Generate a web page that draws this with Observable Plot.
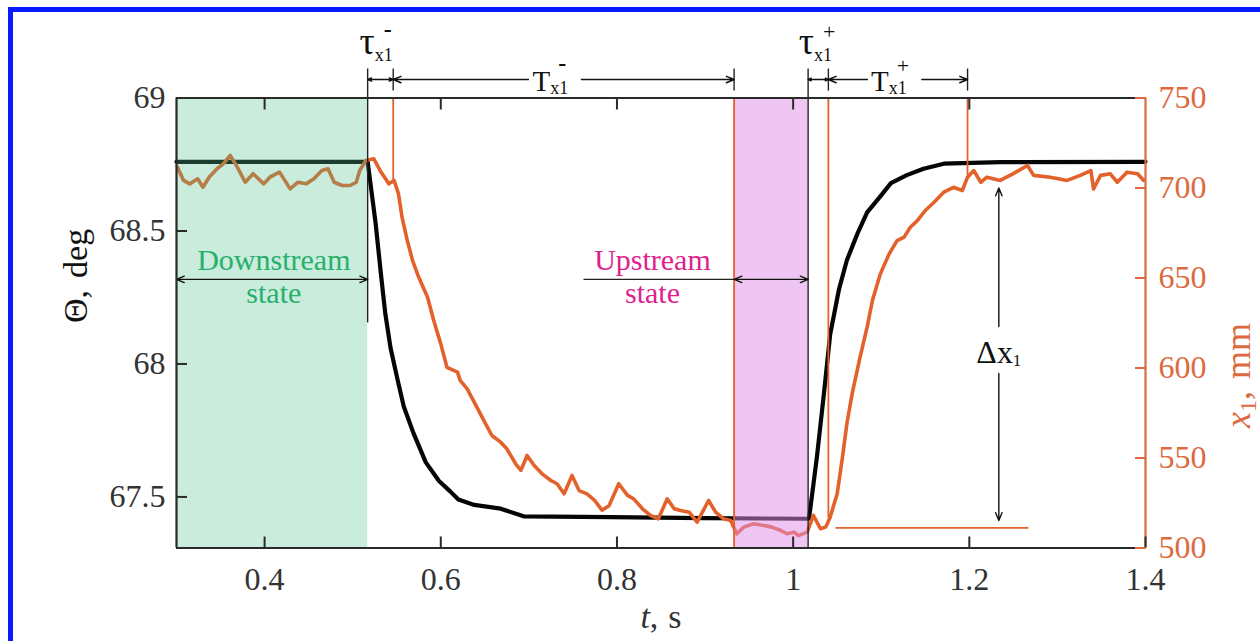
<!DOCTYPE html>
<html>
<head>
<meta charset="utf-8">
<script src="https://cdn.jsdelivr.net/npm/d3@7"></script>
<script src="https://cdn.jsdelivr.net/npm/@observablehq/plot@0.6"></script>
<style>
  html, body { margin: 0; padding: 0; background: #fff; }
  #wrap { position: relative; width: 1260px; height: 641px; overflow: hidden; }
  #edge { position: absolute; left: 8px; top: 7px; width: 1300px; height: 700px;
          border-left: 5px solid #0a1aff; border-top: 5px solid #0a1aff; pointer-events: none; }
  #chart svg, #chart svg text { font-family: "Liberation Serif", "DejaVu Serif", serif !important; }
</style>
</head>
<body>
<div id="wrap"><div id="chart"></div><div id="edge"></div></div>
<script>
// Θ(t): jet deflection angle, deg (black trace)
const thetaT = [0.300, 0.517, 0.526, 0.532, 0.537, 0.543, 0.551, 0.558, 0.569, 0.583, 0.598, 0.611, 0.620, 0.638, 0.668, 0.694, 0.793, 0.900,
                1.018, 1.027, 1.035, 1.042, 1.052, 1.061, 1.073, 1.084, 1.099, 1.111, 1.129, 1.148, 1.171, 1.235, 1.400];
const thetaDeg = [68.76, 68.76, 68.53, 68.34, 68.19, 68.06, 67.94, 67.84, 67.74, 67.63, 67.56, 67.52, 67.49, 67.47, 67.456, 67.427, 67.424, 67.42,
                  67.418, 67.65, 67.89, 68.11, 68.28, 68.39, 68.49, 68.57, 68.63, 68.68, 68.71, 68.734, 68.753, 68.759, 68.76];

// x1(t): position, mm (orange trace)
const x1T = [0.301, 0.308, 0.315, 0.324, 0.330, 0.337, 0.346, 0.353, 0.361, 0.369, 0.378, 0.387, 0.399, 0.406, 0.417, 0.429, 0.438, 0.447,
             0.456, 0.465, 0.472, 0.479, 0.488, 0.497, 0.504, 0.508, 0.515, 0.524, 0.532, 0.541, 0.547, 0.552, 0.556, 0.562, 0.568, 0.575,
             0.585, 0.592, 0.600, 0.607, 0.619, 0.622, 0.630, 0.639, 0.649, 0.658, 0.668, 0.675, 0.685, 0.691, 0.698, 0.706, 0.715, 0.725,
             0.732, 0.740, 0.749, 0.757, 0.766, 0.774, 0.783, 0.791, 0.802, 0.812, 0.819, 0.829, 0.838, 0.847, 0.857, 0.865, 0.872, 0.882,
             0.891, 0.904, 0.912, 0.921, 0.929, 0.936, 0.944, 0.955, 0.967, 0.976, 0.986, 0.993, 1.001, 1.006, 1.016, 1.023, 1.031, 1.037,
             1.042, 1.050, 1.056, 1.061, 1.067, 1.076, 1.084, 1.090, 1.099, 1.109, 1.118, 1.126, 1.133, 1.141, 1.150, 1.160, 1.171, 1.182,
             1.192, 1.198, 1.205, 1.213, 1.220, 1.235, 1.250, 1.266, 1.273, 1.292, 1.311, 1.326, 1.338, 1.341, 1.349, 1.360, 1.368, 1.379,
             1.391, 1.398];
const x1Mm = [711.6, 704.2, 702.3, 705.1, 700.4, 706.0, 710.7, 713.4, 718.1, 711.6, 703.2, 707.9, 702.3, 706.0, 708.8, 699.5, 703.2, 702.3,
              705.1, 709.7, 710.7, 703.2, 701.4, 701.4, 703.2, 709.7, 715.3, 716.2, 709.0, 702.3, 704.2, 696.8, 683.8, 670.8, 659.7, 650.4,
              639.3, 626.4, 613.4, 600.4, 597.7, 593.1, 588.4, 580.1, 570.8, 562.5, 558.8, 555.1, 546.8, 543.1, 551.4, 545.8, 541.2, 537.5,
              535.7, 530.1, 540.3, 531.9, 530.1, 526.8, 521.0, 523.5, 535.7, 529.2, 527.3, 521.8, 518.1, 516.2, 527.3, 521.8, 520.8, 519.9,
              514.3, 526.4, 519.9, 516.2, 515.3, 507.9, 511.6, 513.5, 512.5, 511.6, 509.7, 507.9, 508.8, 506.9, 508.8, 518.1, 510.7, 511.6,
              517.1, 530.1, 550.4, 569.0, 585.7, 606.0, 622.7, 637.5, 652.3, 663.4, 670.8, 672.7, 678.2, 681.9, 687.5, 692.1, 697.7, 700.4,
              698.6, 706.0, 709.7, 703.2, 706.0, 704.2, 708.0, 712.5, 707.0, 706.0, 704.2, 707.0, 709.7, 699.5, 707.0, 707.9, 703.2, 708.8,
              707.9, 704.2];

// axis ticks
const tTicks = [0.4, 0.6, 0.8, 1, 1.2, 1.4];
const thetaTicks = [67.5, 68, 68.5, 69];
const x1Ticks = [500, 550, 600, 650, 700, 750];

// event times, s
const tDownEnd = 0.517;   // end of the downstream state
const tX1Drop = 0.546;    // x1 starts to fall
const tUpStart = 0.933;   // x1 reaches the upstream state
const tUpEnd = 1.017;     // end of the upstream state
const tX1Rise = 1.040;    // x1 starts to rise
const tX1Settle = 1.198;  // x1 back at the downstream level
const x1Low = 511.2;      // mm, upstream level of x1
const x1Settled = 700;    // mm, downstream level of x1

// scale domains: Θ on the left, x1 on the right, sharing one vertical scale
const thetaDomain = [67.308, 69];
const x1Domain = [500, 750];
const toTheta = mm => thetaDomain[0] + (mm - x1Domain[0]) * (thetaDomain[1] - thetaDomain[0]) / (x1Domain[1] - x1Domain[0]);
const toMm = th => x1Domain[0] + (th - thetaDomain[0]) * (x1Domain[1] - x1Domain[0]) / (thetaDomain[1] - thetaDomain[0]);

const INK = "#111";
const FRAME = "#2a2a2a";
const ORANGE = "#e3612a";
const ORANGE_AX = "#dc6a3e";
const GREEN_TXT = "#27b06b";
const PINK_TXT = "#df1f8e";

const black = thetaT.map((t, i) => ({t, v: thetaDeg[i]}));
const orange = x1T.map((t, i) => ({t, v: toTheta(x1Mm[i])}));

// annotation levels (in Θ units of the shared vertical scale)
const yDim = 69.0695;      // row of the τ/T dimension arrows
const yExtTop = 69.111, yExtBot = 69.028;
const yTauBase = 69.167;
const yTBase = 69.028;
const yEdgeLow = 68.156;   // lower end of the downstream edge line
const yState = 68.318;     // row of the state arrows
const yStateBase = 68.231; // baseline of the second "state" line
const yDeltaLabel = 68.002;

// shaded downstream (green) and upstream (pink) intervals, laid over the traces
const zones = [
  {x1: thetaT[0], x2: tDownEnd, fill: "#4cbf8c", op: 0.3},
  {x1: tUpStart, x2: tUpEnd, fill: "#e08ee8", op: 0.5}
];

// thin dark lines: extension bars above the frame, interval edges, leader line
const darkLines = [
  {x1: tDownEnd, y1: yExtTop, x2: tDownEnd, y2: yEdgeLow},
  {x1: tX1Drop, y1: yExtTop, x2: tX1Drop, y2: yExtBot},
  {x1: tUpStart, y1: yExtTop, x2: tUpStart, y2: yExtBot},
  {x1: tUpEnd, y1: yExtTop, x2: tUpEnd, y2: thetaDomain[0]},
  {x1: tX1Rise, y1: yExtTop, x2: tX1Rise, y2: yExtBot},
  {x1: tX1Settle, y1: yExtTop, x2: tX1Settle, y2: yExtBot},
  {x1: 0.762, y1: yState, x2: tUpStart, y2: yState}
];

// thin orange lines marking the x1 events, and the upstream x1 level
const orangeLines = [
  {x1: tX1Drop, y1: thetaDomain[1], x2: tX1Drop, y2: toTheta(704)},
  {x1: tUpStart, y1: thetaDomain[1], x2: tUpStart, y2: thetaDomain[0]},
  {x1: tX1Rise, y1: thetaDomain[1], x2: tX1Rise, y2: toTheta(517)},
  {x1: tX1Settle, y1: thetaDomain[1], x2: tX1Settle, y2: toTheta(706)},
  {x1: 1.048, y1: toTheta(x1Low), x2: 1.267, y2: toTheta(x1Low)}
];

// double-headed dimension arrows, each drawn as two arrows pointing outward
const mid = (a, b) => (a + b) / 2;
const arrows = [
  // τ−
  {x1: mid(tDownEnd, tX1Drop), y1: yDim, x2: tDownEnd, y2: yDim},
  {x1: mid(tDownEnd, tX1Drop), y1: yDim, x2: tX1Drop, y2: yDim},
  // T− (broken around its label)
  {x1: 0.6995, y1: yDim, x2: tX1Drop, y2: yDim},
  {x1: 0.7597, y1: yDim, x2: tUpStart, y2: yDim},
  // τ+
  {x1: mid(tUpEnd, tX1Rise), y1: yDim, x2: tUpEnd, y2: yDim},
  {x1: mid(tUpEnd, tX1Rise), y1: yDim, x2: tX1Rise, y2: yDim},
  // T+ (broken around its label)
  {x1: 1.0843, y1: yDim, x2: tX1Rise, y2: yDim},
  {x1: 1.1461, y1: yDim, x2: tX1Settle, y2: yDim},
  // downstream state
  {x1: mid(thetaT[0], tDownEnd), y1: yState, x2: thetaT[0], y2: yState},
  {x1: mid(thetaT[0], tDownEnd), y1: yState, x2: tDownEnd, y2: yState},
  // upstream state
  {x1: mid(tUpStart, tUpEnd), y1: yState, x2: tUpStart, y2: yState},
  {x1: mid(tUpStart, tUpEnd), y1: yState, x2: tUpEnd, y2: yState},
  // Δx1 (broken around its label)
  {x1: 1.2335, y1: toTheta(623), x2: 1.2335, y2: toTheta(x1Settled)},
  {x1: 1.2335, y1: toTheta(597), x2: 1.2335, y2: toTheta(515.3)}
];

// labels set from their left edge
const symbolLabels = [
  {key: "tau-minus", x: 0.5077, y: yTauBase, size: 38},
  {key: "tau-plus", x: 1.0063, y: yTauBase, size: 38},
  {key: "T-minus", x: 0.7041, y: yTBase, size: 29},
  {key: "T-plus", x: 1.0884, y: yTBase, size: 29}
];
// two-line state labels, centred
const stateLabels = [
  {text: "Downstream\nstate", x: 0.4105, color: GREEN_TXT},
  {text: "Upstream\nstate", x: 0.8403, color: PINK_TXT}
];

// sub/superscript layout of the labels, filled in after Plot draws them
const richParts = {
  "tau-minus": [{s: "τ"}, {s: "x1", size: 18, dy: 7}, {s: "-", size: 24, weight: "bold", dx: -9, dy: -24}],
  "tau-plus": [{s: "τ"}, {s: "x1", size: 18, dy: 7}, {s: "+", size: 22, dx: -9, dy: -22}],
  "T-minus": [{s: "T"}, {s: "x1", size: 18, dy: 3}, {s: "-", size: 24, weight: "bold", dx: -10, dy: -23}],
  "T-plus": [{s: "T"}, {s: "x1", size: 18, dy: 3}, {s: "+", size: 22, dx: -10, dy: -21}],
  "delta-x1": [{s: "Δx"}, {s: "1", size: 17, dy: 3}],
  "t, s": [{s: "t", italic: true}, {s: ","}, {s: "s", dx: 10}],
  "Θ, deg": [{s: "Θ"}, {s: ","}, {s: "deg", dx: 12}],
  "x1, mm": [{s: "x", italic: true}, {s: "1", size: 24, dy: 6}, {s: ",", dy: -6}, {s: "mm", dx: 12}]
};

const chart = Plot.plot({
  width: 1260,
  height: 641,
  marginLeft: 176,
  marginRight: 115,
  marginTop: 97.5,
  marginBottom: 93.5,
  x: {domain: [0.3, 1.4]},
  y: {domain: thetaDomain},
  style: {fontSize: "32px", color: FRAME, background: "transparent"},
  marks: [
    Plot.line(black, {x: "t", y: "v", stroke: "#050505", strokeWidth: 4.2}),
    Plot.line(orange, {x: "t", y: "v", stroke: ORANGE, strokeWidth: 3.6}),
    Plot.rect(zones, {x1: "x1", x2: "x2", y1: () => thetaDomain[0], y2: () => thetaDomain[1], fill: "fill", fillOpacity: "op"}),
    Plot.link(orangeLines, {x1: "x1", y1: "y1", x2: "x2", y2: "y2", stroke: ORANGE, strokeWidth: 1.8}),
    Plot.link(darkLines, {x1: "x1", y1: "y1", x2: "x2", y2: "y2", stroke: "#222", strokeWidth: 1.4}),
    Plot.arrow(arrows, {x1: "x1", y1: "y1", x2: "x2", y2: "y2", stroke: "#111", strokeWidth: 1.4, headLength: 9, headAngle: 45}),
    // frame
    Plot.ruleY([thetaDomain[1]], {stroke: FRAME, strokeWidth: 2.2}),
    Plot.ruleY([thetaDomain[0]], {stroke: FRAME, strokeWidth: 2.2}),
    Plot.ruleX([0.3], {stroke: FRAME, strokeWidth: 2.2}),
    Plot.ruleX([1.4], {stroke: ORANGE_AX, strokeWidth: 2.2}),
    // axes with inward ticks
    Plot.axisX(tTicks, {anchor: "bottom", tickSize: -11, tickPadding: 30, tickFormat: d => `${d}`, label: null, stroke: FRAME, strokeWidth: 2, fill: "#333", fontSize: 32}),
    Plot.axisX(tTicks.slice(0, -1), {anchor: "top", tickSize: -11, tickFormat: () => "", label: null, stroke: FRAME, strokeWidth: 2}),
    Plot.axisY(thetaTicks, {anchor: "left", tickSize: -11, tickPadding: 22, tickFormat: d => `${d}`, label: null, stroke: FRAME, strokeWidth: 2, fill: "#333", fontSize: 32}),
    Plot.axisY(x1Ticks.map(toTheta), {anchor: "right", tickSize: -11, tickPadding: 24, tickFormat: v => `${Math.round(toMm(v))}`, label: null, stroke: ORANGE_AX, strokeWidth: 2, fill: ORANGE_AX, fontSize: 32}),
    // axis titles
    Plot.text(["t, s"], {frameAnchor: "bottom", dy: 80, lineAnchor: "bottom", fontSize: 34, fill: "#333"}),
    Plot.text(["Θ, deg"], {frameAnchor: "left", dx: -100, rotate: -90, lineAnchor: "middle", fontSize: 34, fill: "#111"}),
    Plot.text(["x1, mm"], {frameAnchor: "right", dx: 93, rotate: -90, lineAnchor: "middle", fontSize: 36, fill: ORANGE_AX}),
    // annotation labels
    Plot.text(symbolLabels, {x: "x", y: "y", text: "key", textAnchor: "start", fill: INK, fontSize: "size", lineAnchor: "bottom"}),
    Plot.text(stateLabels, {x: "x", y: () => yStateBase, text: "text", fill: "color", textAnchor: "middle", fontSize: 30, lineHeight: 1.08, lineAnchor: "bottom"}),
    Plot.text(["delta-x1"], {x: () => 1.2335, y: () => yDeltaLabel, textAnchor: "middle", fill: INK, fontSize: 32, lineAnchor: "bottom"})
  ]
});

document.getElementById("chart").appendChild(chart);

// rebuild the labels with sub/superscripts and italics as tspans
d3.select(chart).selectAll("text").each(function () {
  const parts = richParts[this.textContent];
  if (!parts) return;
  const el = d3.select(this);
  el.text(null);
  for (const p of parts) {
    const ts = el.append("tspan").text(p.s);
    if (p.size) ts.attr("font-size", p.size);
    if (p.dx) ts.attr("dx", p.dx);
    if (p.dy) ts.attr("dy", p.dy);
    if (p.italic) ts.attr("font-style", "italic");
    if (p.weight) ts.attr("font-weight", p.weight);
  }
});
</script>
</body>
</html>
